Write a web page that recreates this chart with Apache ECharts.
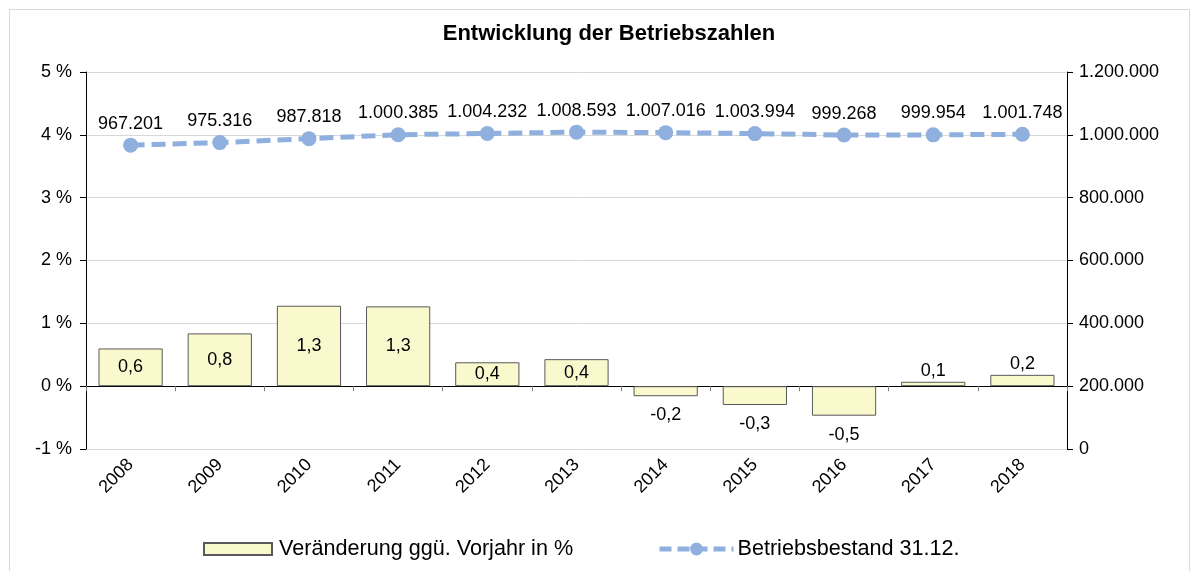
<!DOCTYPE html>
<html>
<head>
<meta charset="utf-8">
<script src="https://cdn.jsdelivr.net/npm/echarts@6/dist/echarts.min.js"></script>
<style>
html,body{margin:0;padding:0;background:#fff;overflow:hidden;}
#frame{position:absolute;left:9px;top:9px;width:1181px;height:620px;border:1px solid #d9d9d9;box-sizing:border-box;}
#chart{position:absolute;left:0;top:0;width:1200px;height:571px;}
</style>
</head>
<body>
<div id="frame"></div>
<div id="chart"></div>
<script>
const years = ['2008','2009','2010','2011','2012','2013','2014','2015','2016','2017','2018'];
const changePct = [0.6, 0.84, 1.28, 1.27, 0.38, 0.43, -0.16, -0.30, -0.47, 0.07, 0.18];
const stock = [967201, 975316, 987818, 1000385, 1004232, 1008593, 1007016, 1003994, 999268, 999954, 1001748];
const leftTicks = {min: -1, max: 5, interval: 1};
const rightTicks = {min: 0, max: 1200000, interval: 200000};
const barName = 'Veränderung ggü. Vorjahr in %';
const lineName = 'Betriebsbestand 31.12.';

const FONT = '"Liberation Sans", Arial, sans-serif';
const dots = v => String(Math.round(v)).replace(/\B(?=(\d{3})+(?!\d))/g, '.');
const LINE_COLOR = '#8FB0DE';

function barLabel(v) {
  if (v < 0) return {position: 'bottom', distance: 10};
  if (v < 0.3) return {position: 'top', distance: 2};
  return {position: 'inside'};
}

const chart = echarts.init(document.getElementById('chart'));
chart.setOption({
  animation: false,
  textStyle: {fontFamily: FONT, color: '#000'},
  title: {
    text: 'Entwicklung der Betriebszahlen',
    left: 609, top: 23, textAlign: 'center', padding: 0,
    textStyle: {fontFamily: FONT, fontSize: 22, fontWeight: 'bold', color: '#000'}
  },
  legend: [
    {data: [{name: barName, icon: 'rect'}], left: 203, top: 538, padding: 0,
     itemWidth: 68, itemHeight: 12, itemGap: 0,
     textStyle: {fontFamily: FONT, fontSize: 21.6, color: '#000', padding: [0,0,0,2]}},
    {data: [lineName], left: 657, top: 538, padding: 0,
     itemWidth: 74, itemHeight: 16,
     lineStyle: {width: 5, type: [12, 6]},
     textStyle: {fontFamily: FONT, fontSize: 21.6, color: '#000', padding: [0,0,0,-1]}}
  ],
  grid: {left: 86, right: 133, top: 72, bottom: 122, containLabel: false},
  xAxis: [
    {type: 'category', data: years, position: 'bottom',
     axisLine: {onZero: true, lineStyle: {color: '#000', width: 1}},
     axisTick: {show: true, length: 5, lineStyle: {color: '#7f7f7f'}},
     axisLabel: {show: false}},
    {type: 'category', data: years, position: 'bottom',
     axisLine: {show: false, onZero: false}, axisTick: {show: false},
     axisLabel: {rotate: 45, fontSize: 18, fontFamily: FONT, color: '#000', margin: 13}}
  ],
  yAxis: [
    {type: 'value', min: leftTicks.min, max: leftTicks.max, interval: leftTicks.interval,
     axisLine: {show: true, lineStyle: {color: '#000'}},
     axisTick: {show: true, length: 6, lineStyle: {color: '#000'}},
     splitLine: {lineStyle: {color: '#d9d9d9'}},
     axisLabel: {fontSize: 18, fontFamily: FONT, color: '#000', margin: 14, formatter: v => v + ' %'}},
    {type: 'value', min: rightTicks.min, max: rightTicks.max, interval: rightTicks.interval,
     position: 'right',
     axisLine: {show: true, lineStyle: {color: '#000'}},
     axisTick: {show: true, length: 6, lineStyle: {color: '#000'}},
     splitLine: {show: false},
     axisLabel: {fontSize: 18, fontFamily: FONT, color: '#000', margin: 12, formatter: v => dots(v)}}
  ],
  series: [
    {
      name: barName, type: 'bar', xAxisIndex: 0, yAxisIndex: 0,
      barCategoryGap: '28%',
      itemStyle: {color: '#FAF8CD', borderColor: '#595959', borderWidth: 1},
      data: changePct.map(v => ({value: v, label: barLabel(v)})),
      label: {show: true, fontSize: 18, fontFamily: FONT, color: '#000',
        formatter: p => p.value.toFixed(1).replace('.', ',')},
      z: 2
    },
    {
      name: lineName, type: 'line', xAxisIndex: 0, yAxisIndex: 1,
      data: stock,
      symbol: 'circle', symbolSize: 15,
      lineStyle: {color: LINE_COLOR, width: 5, type: [14, 7]},
      itemStyle: {color: LINE_COLOR},
      label: {show: true, position: 'top', distance: 5, fontSize: 18, fontFamily: FONT, color: '#000',
        formatter: p => dots(p.value)},
      z: 3
    }
  ]
});
</script>
</body>
</html>
